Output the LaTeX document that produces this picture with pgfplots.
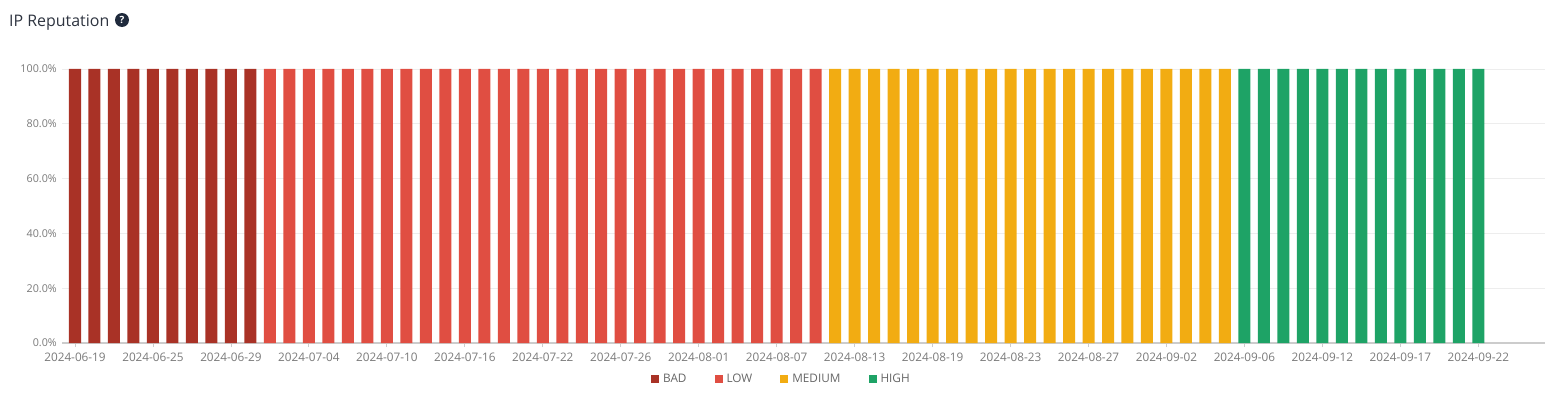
\documentclass[border=0pt]{standalone}
\usepackage{pgfplots}
\pgfplotsset{compat=1.18}
\usepackage{fontspec}
\setmainfont{Open Sans}
\definecolor{cbad}{HTML}{A93226}
\definecolor{clow}{HTML}{E04E42}
\definecolor{cmed}{HTML}{F2AC12}
\definecolor{chigh}{HTML}{1EA366}
\definecolor{ctick}{HTML}{7A7A7A}
\definecolor{ctitle}{HTML}{2E3440}
\definecolor{cicon}{HTML}{1F2A3C}
\begin{document}
\begin{tikzpicture}[x=1bp,y=1bp]
\useasboundingbox (-62,-52) rectangle (1489,343);
\begin{axis}[
  at={(0,0)}, anchor=south west,
  scale only axis, width=1483bp, height=274bp,
  xmin=-0.667, xmax=75.42, ymin=0, ymax=100,
  axis x line*=bottom, axis y line*=left,
  x axis line style={draw=black!20, line width=1.2bp, -},
  y axis line style={draw=none},
  xtick={0,4,...,72},
  xticklabels={2024-06-19,2024-06-25,2024-06-29,2024-07-04,2024-07-10,2024-07-16,2024-07-22,2024-07-26,2024-08-01,2024-08-07,2024-08-13,2024-08-19,2024-08-23,2024-08-27,2024-09-02,2024-09-06,2024-09-12,2024-09-17,2024-09-22},
  xtick align=outside,
  major tick length=4bp,
  xtick style={draw=black!20, line width=0.8bp},
  xticklabel style={font=\fontsize{11.8}{12}\selectfont, text=ctick, inner sep=0pt, anchor=base, yshift=-14.5bp},
  ytick={0,20,40,60,80,100},
  yticklabels={0.0\%,20.0\%,40.0\%,60.0\%,80.0\%,100.0\%},
  ymajorgrids, major grid style={draw=black!7, line width=0.8bp},
  ytick style={draw=none},
  yticklabel style={font=\fontsize{10.8}{11}\selectfont, text=ctick, inner sep=0pt, anchor=east, xshift=-5bp},
  legend columns=4,
  legend image code/.code={\fill[#1] (0bp,-3.7bp) rectangle (8bp,3.7bp);},
  legend style={at={(0.4858,-0.1314)}, anchor=center, draw=none, fill=none,
    font=\fontsize{11.8}{12}\selectfont, text=black!60,
    /tikz/every even column/.style={column sep=24bp},
    nodes={inner xsep=4bp, inner ysep=0pt}},
]
\addplot[ybar, bar width=12bp, fill=cbad, draw=none] coordinates {
(0,100) (1,100) (2,100) (3,100) (4,100) (5,100) (6,100) (7,100) (8,100) (9,100)};
\addlegendentry{BAD}
\addplot[ybar, bar width=12bp, fill=clow, draw=none] coordinates {
(10,100) (11,100) (12,100) (13,100) (14,100) (15,100) (16,100) (17,100) (18,100) (19,100)
(20,100) (21,100) (22,100) (23,100) (24,100) (25,100) (26,100) (27,100) (28,100) (29,100)
(30,100) (31,100) (32,100) (33,100) (34,100) (35,100) (36,100) (37,100) (38,100)};
\addlegendentry{LOW}
\addplot[ybar, bar width=12bp, fill=cmed, draw=none] coordinates {
(39,100) (40,100) (41,100) (42,100) (43,100) (44,100) (45,100) (46,100) (47,100) (48,100)
(49,100) (50,100) (51,100) (52,100) (53,100) (54,100) (55,100) (56,100) (57,100) (58,100)
(59,100)};
\addlegendentry{MEDIUM}
\addplot[ybar, bar width=12bp, fill=chigh, draw=none] coordinates {
(60,100) (61,100) (62,100) (63,100) (64,100) (65,100) (66,100) (67,100) (68,100) (69,100)
(70,100) (71,100) (72,100)};
\addlegendentry{HIGH}
\end{axis}
\node[anchor=base west, inner sep=0pt, font=\fontsize{16}{16}\selectfont, text=ctitle] at (-53,316.3) {IP Reputation};
\node[circle, fill=cicon, text=white, inner sep=0pt, minimum size=14bp, font=\bfseries\fontsize{10}{10}\selectfont] at (60,323) {?};
\end{tikzpicture}
\end{document}
